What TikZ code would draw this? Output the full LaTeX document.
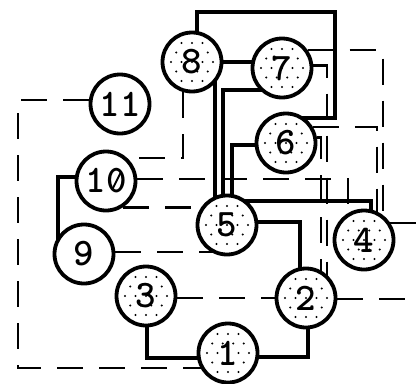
\documentclass[tikz,border=0pt]{standalone}
\usetikzlibrary{calc}
\pgfdeclarelayer{bg}
\pgfdeclarelayer{mid}
\pgfsetlayers{bg,mid,main}
\begin{document}
\begin{tikzpicture}[x=1pt,y=-1pt,
  nd/.style={circle,draw,line width=3.8pt,minimum size=59pt,inner sep=0pt,
    font=\fontsize{39}{39}\selectfont\ttfamily\bfseries},
  tline/.style={line width=4pt},
  dline/.style={line width=2.6pt,dash pattern=on 26pt off 16pt},
  dotc/.style={fill=black},
]
\useasboundingbox (0,0) rectangle (417,383);
% nodes
\node[nd] (n8)  at (192,62)  {8};
\node[nd] (n7)  at (282,68)  {7};
\node[nd] (n11) at (120,104) {11};
\node[nd] (n6)  at (286,143) {6};
\node[nd] (n10) at (106,181) {10};
\node[nd] (n5)  at (227,225) {5};
\node[nd] (n4)  at (364,240) {4};
\node[nd] (n9)  at (84,254)  {9};
\node[nd] (n3)  at (146,296) {3};
\node[nd] (n2)  at (306,298) {2};
\node[nd] (n1)  at (228,353) {1};
% slash of the zero in 10
\draw[line width=2pt] ($(n10)+(6,9)$) -- ($(n10)+(15,-9)$);
\coordinate (tr) at (335,12);
\coordinate (bl) at (18,368);
\coordinate (re) at (417,0);
\begin{pgfonlayer}{mid}
\foreach \n in {n9,n10,n11} {\fill[white] (\n) circle (29pt);}
\foreach \n in {n1,n2,n3,n4,n5,n6,n7,n8} {
  \fill[white] (\n) circle (29pt);
  \begin{scope}
    \clip (\n) circle (26pt);
    \foreach \j in {-3,...,3} {
      \foreach \i in {-3,...,3} {
        \fill[dotc] ($(\n)+({\i*10.5+mod(abs(\j),2)*5.25},{\j*9.5})$) circle (1.1pt);
      }
    }
  \end{scope}
}
\end{pgfonlayer}
\begin{pgfonlayer}{bg}
% thick solid connectors
\draw[tline] ($(n8)+(5,0)$) |- (tr) |- ($(n6)+(0,-25)$);
\draw[tline] (n8) -- (n8 -| n7);
\draw[tline] ($(n8)+(23,0)$) -- ($(n5)+(-12,0)$);
\draw[tline] ($(n7)+(0,22)$) -| ($(n5)+(-4,0)$);
\draw[tline] ($(n6)+(0,2)$) -| ($(n5)+(5,0)$);
\draw[tline] ($(n5)+(0,-24)$) -| ($(n4)+(7,0)$);
\draw[tline] ($(n5)+(0,-3)$) -| ($(n2)+(-6,0)$);
\draw[tline] ($(n2)+(2,0)$) |- ($(n1)+(0,4)$);
\draw[tline] ($(n3)+(1,0)$) |- ($(n1)+(0,5)$);
\draw[tline] ($(n10)+(0,-4)$) -| ($(n9)+(-26,0)$);
% dashed connectors
\draw[dline] (n8.253) |- ($(n10)+(0,-23)$);
\draw[dline] (n11.173) -| (bl) -- (bl -| n1);
\draw[dline] (n7.35) -| ($(n4)+(19,0)$);
\draw[dline] (n6.31) -| ($(n4)+(13,0)$);
\draw[dline] (n10.4) -| ($(n4)+(-16,0)$);
\draw[dline] (n10.-57) -- (n10.-57 -| n5);
\draw[dline] (n9.4) -- (n9.4 -| n5);
\draw[dline] (n3.-4) -- (n3.-4 -| n2);
\draw[dline] (n2.-2) -- (n2.-2 -| re);
\draw[dline] (n4.33) -- (n4.33 -| re);
\draw[dline] (n7.5) -| ($(n2)+(21,0)$);
\draw[dline] (n6.10) -| ($(n2)+(15,0)$);
\end{pgfonlayer}
\end{tikzpicture}
\end{document}
